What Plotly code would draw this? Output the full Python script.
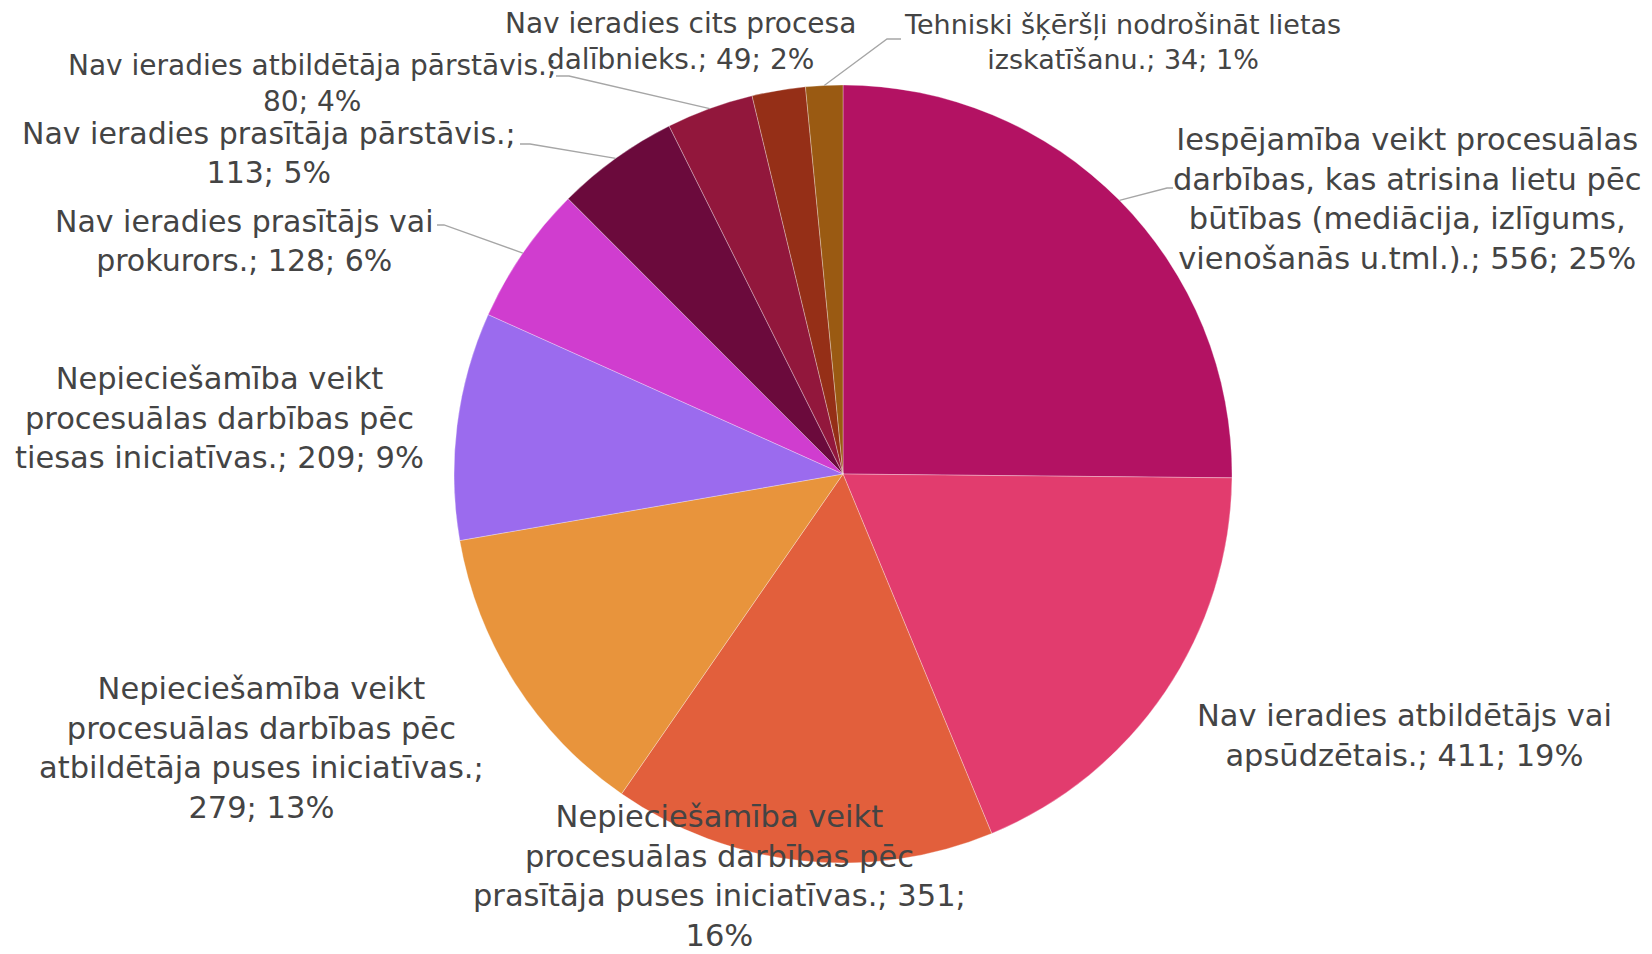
import math
import plotly.graph_objects as go

# ---- data ----
categories = [
    "Iespējamība veikt procesuālas darbības, kas atrisina lietu pēc būtības (mediācija, izlīgums, vienošanās u.tml.).",
    "Nav ieradies atbildētājs vai apsūdzētais.",
    "Nepieciešamība veikt procesuālas darbības pēc prasītāja puses iniciatīvas.",
    "Nepieciešamība veikt procesuālas darbības pēc atbildētāja puses iniciatīvas.",
    "Nepieciešamība veikt procesuālas darbības pēc tiesas iniciatīvas.",
    "Nav ieradies prasītājs vai prokurors.",
    "Nav ieradies prasītāja pārstāvis.",
    "Nav ieradies atbildētāja pārstāvis.",
    "Nav ieradies cits procesa dalībnieks.",
    "Tehniski šķēršļi nodrošināt lietas izskatīšanu.",
]
values = [556, 411, 351, 279, 209, 128, 113, 80, 49, 34]
percent_labels = ["25%", "19%", "16%", "13%", "9%", "6%", "5%", "4%", "2%", "1%"]
label_lines = [
    ["Iespējamība veikt procesuālas", "darbības, kas atrisina lietu pēc", "būtības (mediācija, izlīgums,", "vienošanās u.tml.).; 556; 25%"],
    ["Nav ieradies atbildētājs vai", "apsūdzētais.; 411; 19%"],
    ["Nepieciešamība veikt", "procesuālas darbības pēc", "prasītāja puses iniciatīvas.; 351;", "16%"],
    ["Nepieciešamība veikt", "procesuālas darbības pēc", "atbildētāja puses iniciatīvas.;", "279; 13%"],
    ["Nepieciešamība veikt", "procesuālas darbības pēc", "tiesas iniciatīvas.; 209; 9%"],
    ["Nav ieradies prasītājs vai", "prokurors.; 128; 6%"],
    ["Nav ieradies prasītāja pārstāvis.;", "113; 5%"],
    ["Nav ieradies atbildētāja pārstāvis.;", "80; 4%"],
    ["Nav ieradies cits procesa", "dalībnieks.; 49; 2%"],
    ["Tehniski šķēršļi nodrošināt lietas", "izskatīšanu.; 34; 1%"],
]
colors = ["#B31263", "#E23C6E", "#E25F3C", "#E8943C", "#9B6BEE",
          "#D03DCF", "#6B0A3C", "#92173C", "#952F17", "#9A5A12"]

# ---- layout (pixels) ----
W, H = 1652, 954
CX, CY, R = 843, 474, 389
# label centre positions (px) and font sizes
label_pos = [(1407, 199), (1404, 735), (719, 876), (261, 748), (219, 418),
             (244, 241), (269, 153), (312, 84), (680, 42), (1122, 42)]
label_size = [30.5, 30.5, 30.5, 30.5, 30.5, 30, 30, 28, 28, 27]
# leader elbows (px): label end, then bend
leaders = {0: [(1173, 188), (1167, 188)],
           5: [(437, 225), (444, 225)],
           6: [(520, 144), (530, 144)],
           7: [(556, 76), (569, 76)],
           9: [(901, 39), (887, 39)]}

def px(x):
    return x / W

def py(y):
    return 1 - y / H

fig = go.Figure(go.Pie(
    labels=categories,
    values=values,
    marker=dict(colors=colors, line=dict(color="rgba(255,255,255,0.5)", width=0.6)),
    sort=False,
    direction="clockwise",
    rotation=0,
    textinfo="none",
    hoverinfo="skip",
    showlegend=False,
    domain=dict(x=[px(CX - R), px(CX + R)], y=[py(CY + R), py(CY - R)]),
))

total = sum(values)
annotations = []
shapes = []
cum = 0
for i, v in enumerate(values):
    mid = (cum + v / 2) / total * 2 * math.pi
    cum += v
    lx, ly = label_pos[i]
    annotations.append(dict(
        x=px(lx), y=py(ly), xref="paper", yref="paper",
        text="<br>".join(label_lines[i]), showarrow=False,
        xanchor="center", yanchor="middle", align="center",
        font=dict(family="DejaVu Sans", size=label_size[i], color="#444444"),
    ))
    if i in leaders:
        ex = CX + R * math.sin(mid)
        ey = CY - R * math.cos(mid)
        pts = leaders[i] + [(ex, ey)]
        path = "M " + " L ".join(f"{px(a)},{py(b)}" for a, b in pts)
        shapes.append(dict(type="path", path=path, xref="paper", yref="paper",
                           line=dict(color="#A6A6A6", width=1.3)))

fig.update_layout(
    width=W, height=H,
    margin=dict(l=0, r=0, t=0, b=0),
    paper_bgcolor="white", plot_bgcolor="white",
    annotations=annotations,
    shapes=shapes,
)

fig.write_html("out.html", config={"displayModeBar": False},
               post_script="document.body.style.margin='0';document.body.style.overflow='hidden';")
